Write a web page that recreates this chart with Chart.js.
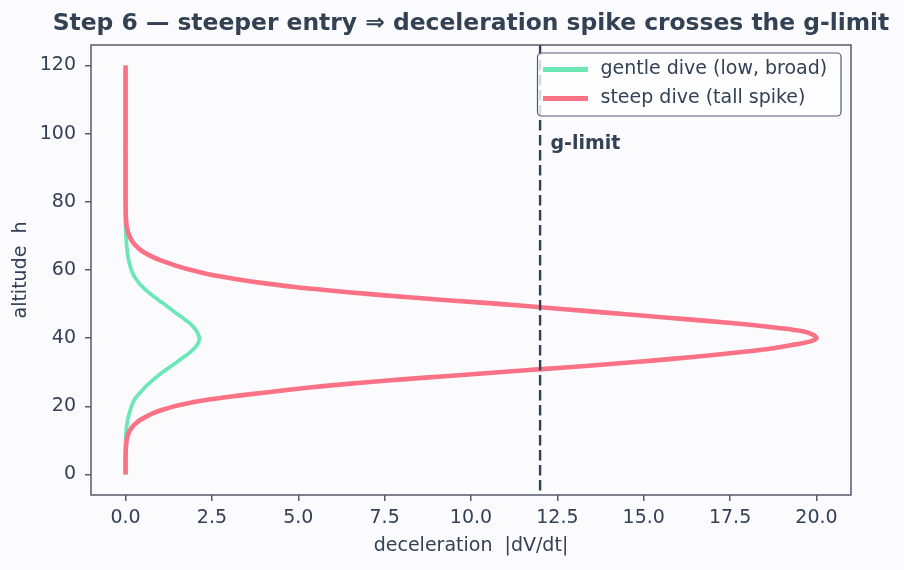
<!DOCTYPE html>
<html>
<head>
<meta charset="utf-8">
<script src="https://cdn.jsdelivr.net/npm/chart.js@4"></script>
<style>
  html, body { margin: 0; padding: 0; background: #fbfbfd; }
  #wrap { width: 904px; height: 570px; }
</style>
</head>
<body>
<div id="wrap"><canvas id="entryChart" width="904" height="570"></canvas></div>
<script>
// altitude grid (h) and the two deceleration profiles
const altitude = [0, 1, 2, 3, 4, 5, 6, 7, 8, 9, 10, 11, 12, 13, 14, 15, 16, 17, 18, 19, 20,
  21, 22, 23, 24, 25, 26, 27, 28, 29, 30, 31, 32, 33, 34, 35, 36, 37, 38, 39, 40,
  41, 42, 43, 44, 45, 46, 47, 48, 49, 50, 51, 52, 53, 54, 55, 56, 57, 58, 59, 60,
  61, 62, 63, 64, 65, 66, 67, 68, 69, 70, 71, 72, 73, 74, 75, 76, 77, 78, 79, 80,
  90, 100, 110, 120];
const gentleDecel = [0, 0, 0, 0, 0, 0.001, 0.001, 0.002, 0.003, 0.004, 0.006,
  0.01, 0.015, 0.022, 0.03, 0.045, 0.06, 0.085, 0.11, 0.14, 0.17,
  0.21, 0.26, 0.33, 0.42, 0.51, 0.6, 0.71, 0.82, 0.94, 1.07,
  1.21, 1.35, 1.49, 1.62, 1.76, 1.88, 1.99, 2.07, 2.12, 2.14,
  2.11, 2.06, 1.99, 1.9, 1.78, 1.65, 1.51, 1.38, 1.25, 1.12,
  0.98, 0.85, 0.72, 0.6, 0.5, 0.4, 0.33, 0.26, 0.21, 0.17,
  0.14, 0.11, 0.09, 0.07, 0.057, 0.045, 0.035, 0.025, 0.018, 0.012,
  0.008, 0.005, 0.003, 0.002, 0.001, 0, 0, 0, 0, 0,
  0, 0, 0, 0];
const steepDecel = [0, 0, 0, 0, 0, 0.001, 0.003, 0.006, 0.01, 0.02, 0.03,
  0.05, 0.08, 0.13, 0.2, 0.3, 0.42, 0.6, 0.8, 1.07, 1.4,
  1.85, 2.4, 3.15, 4.0, 4.85, 5.8, 6.9, 8.1, 9.45, 10.8,
  12.15, 13.5, 14.75, 15.9, 16.95, 17.9, 18.7, 19.3, 19.8, 20.0,
  19.9, 19.6, 18.9, 18.0, 16.9, 15.7, 14.5, 13.3, 12.1, 10.9,
  9.5, 8.2, 7.0, 5.9, 4.9, 4.1, 3.4, 2.8, 2.3, 1.9,
  1.55, 1.25, 0.98, 0.75, 0.57, 0.42, 0.31, 0.22, 0.16, 0.11,
  0.075, 0.05, 0.03, 0.02, 0.012, 0.008, 0.005, 0.003, 0.002, 0.001,
  0, 0, 0, 0];
const gLimit = 12;
const xTicks = [0, 2.5, 5, 7.5, 10, 12.5, 15, 17.5, 20];
const yTicks = [0, 20, 40, 60, 80, 100, 120];

const textColor = '#334155';
const spineColor = '#555b6e';
const font = 'DejaVu Sans';

const toPoints = (vals) => vals.map((v, i) => ({ x: v, y: altitude[i] }));

const decor = {
  id: 'decor',
  beforeDraw(chart) {
    const ctx = chart.ctx;
    ctx.save();
    ctx.fillStyle = '#fbfbfd';
    ctx.fillRect(0, 0, chart.width, chart.height);
    ctx.restore();
  },
  afterDatasetsDraw(chart) {
    const { ctx, chartArea: a, scales: { x, y } } = chart;
    const gx = x.getPixelForValue(gLimit);
    ctx.save();
    ctx.strokeStyle = textColor;
    ctx.lineWidth = 2.4;
    ctx.setLineDash([10.5, 4.5]);
    ctx.beginPath();
    ctx.moveTo(gx, a.top);
    ctx.lineTo(gx, a.bottom);
    ctx.stroke();
    ctx.setLineDash([]);
    ctx.fillStyle = textColor;
    ctx.font = 'bold 19px "' + font + '"';
    ctx.textAlign = 'left';
    ctx.textBaseline = 'middle';
    ctx.fillText('g-limit', x.getPixelForValue(12.3), y.getPixelForValue(97));
    ctx.restore();
  },
  afterDraw(chart) {
    const { ctx, chartArea: a } = chart;
    ctx.save();
    // frame
    ctx.strokeStyle = spineColor;
    ctx.lineWidth = 1.5;
    ctx.strokeRect(a.left, a.top, a.right - a.left, a.bottom - a.top);
    // title
    ctx.fillStyle = textColor;
    ctx.font = 'bold 23.4px "' + font + '"';
    ctx.textAlign = 'center';
    ctx.textBaseline = 'middle';
    ctx.fillText('Step 6 \u2014 steeper entry \u21d2 deceleration spike crosses the g-limit', (a.left + a.right) / 2, 24);
    // legend box
    const bx = a.left + 446.5, by = a.top + 8, bw = 303.5, bh = 63;
    ctx.fillStyle = 'rgba(255,255,255,0.8)';
    ctx.strokeStyle = spineColor;
    ctx.lineWidth = 1.2;
    ctx.beginPath();
    ctx.roundRect(bx, by, bw, bh, 4);
    ctx.fill();
    ctx.stroke();
    ctx.font = '19px "' + font + '"';
    ctx.textAlign = 'left';
    chart.data.datasets.forEach((ds, i) => {
      const ly = by + 16.5 + i * 29;
      ctx.strokeStyle = ds.borderColor;
      ctx.lineWidth = 5;
      ctx.beginPath();
      ctx.moveTo(bx + 5.5, ly);
      ctx.lineTo(bx + 50.5, ly);
      ctx.stroke();
      ctx.fillStyle = textColor;
      ctx.fillText(ds.label, bx + 63, ly);
    });
    ctx.restore();
  }
};

const ctx = document.getElementById('entryChart').getContext('2d');
const entryChart = new Chart(ctx, {
  type: 'scatter',
  data: {
    datasets: [{
      label: 'gentle dive (low, broad)',
      data: toPoints(gentleDecel),
      borderColor: '#6ee7b7',
      borderWidth: 3.8,
      showLine: true,
      pointRadius: 0,
      tension: 0.3,
      fill: false,
      order: 1
    }, {
      label: 'steep dive (tall spike)',
      data: toPoints(steepDecel),
      borderColor: '#fb7185',
      borderWidth: 4.6,
      showLine: true,
      pointRadius: 0,
      tension: 0.3,
      fill: false,
      order: 0
    }]
  },
  options: {
    responsive: false,
    animation: false,
    events: [],
    layout: { padding: { top: 45, right: 53, left: 0, bottom: 0 } },
    plugins: {
      legend: { display: false },
      title: { display: false },
      tooltip: { enabled: false }
    },
    scales: {
      x: {
        type: 'linear',
        min: -1,
        max: 21,
        afterBuildTicks: (s) => { s.ticks = xTicks.map(v => ({ value: v })); },
        afterFit: (s) => { s.height = 75; },
        grid: { drawOnChartArea: false, drawTicks: true, tickLength: 6, color: spineColor, lineWidth: 1.5 },
        border: { display: false },
        ticks: {
          color: textColor,
          font: { family: font, size: 19 },
          padding: 6,
          maxRotation: 0,
          callback: (v) => Number(v).toFixed(1)
        },
        title: {
          display: true,
          text: 'deceleration  |dV/dt|',
          color: textColor,
          font: { family: font, size: 19 },
          padding: { top: 0, bottom: 13 }
        }
      },
      y: {
        type: 'linear',
        min: -6,
        max: 126,
        afterBuildTicks: (s) => { s.ticks = yTicks.map(v => ({ value: v })); },
        afterFit: (s) => { s.width = 91; },
        grid: { drawOnChartArea: false, drawTicks: true, tickLength: 6, color: spineColor, lineWidth: 1.5 },
        border: { display: false },
        ticks: {
          color: textColor,
          font: { family: font, size: 19 },
          padding: 9
        },
        title: {
          display: true,
          text: 'altitude  h',
          color: textColor,
          font: { family: font, size: 19 },
          padding: { top: 10, bottom: 0 }
        }
      }
    }
  },
  plugins: [decor]
});
</script>
</body>
</html>
